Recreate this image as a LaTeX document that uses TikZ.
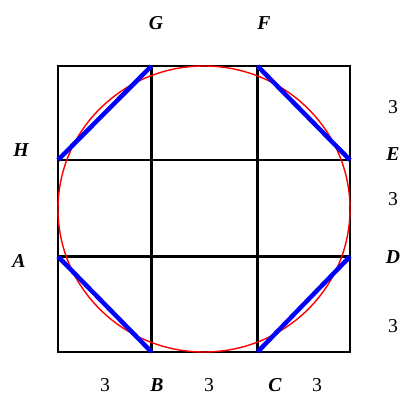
\documentclass[tikz,border=0pt]{standalone}
\usepackage{fontspec}
\setmainfont{Liberation Serif}
\usepackage{tikz}
\usetikzlibrary{calc}

\tikzset{
    lab/.style={font=\fontsize{14}{16}\selectfont\bfseries\itshape},
    num/.style={font=\fontsize{14}{16}\selectfont},
    gridline/.style={black,line width=1.5pt},
    cut/.style={blue,line width=3.2pt}
}

\begin{document}
\begin{tikzpicture}[x=0.025cm,y=-0.025cm]

\useasboundingbox (0,0) rectangle (402,395);

% Grid corners
\coordinate (h) at (58,160);
\coordinate (g) at (151.5,66);
\coordinate (f) at (257.5,66);
\coordinate (e) at (350,160);
\coordinate (d) at (350,256.5);
\coordinate (c) at (257.5,352);
\coordinate (b) at (151.5,352);
\coordinate (a) at (58,256.5);

% Outer square and inner lines
\draw[gridline] (58,66) rectangle (350,352);
\draw[gridline] (g) -- (b);
\draw[gridline] (f) -- (c);
\draw[gridline] (h) -- (e);
\draw[gridline] (a) -- (d);

% Inscribed circle
\draw[red,line width=1pt] (204,209) ellipse [x radius=146,y radius=143];

% Cut corners
\draw[cut] (h) -- (g);
\draw[cut] (f) -- (e);
\draw[cut] (a) -- (b);
\draw[cut] (c) -- (d);

% Vertex labels
\node[lab] (G) at (156,23) {G};
\node[lab] (F) at (264,23) {F};
\node[lab] (H) at (21,150) {H};
\node[lab] (E) at (393,154) {E};
\node[lab] (A) at (19,261) {A};
\node[lab] (D) at (393,257) {D};
\node[lab] (B) at (157,385) {B};
\node[lab] (C) at (275,385) {C};

% Side lengths
\node[num] (r1) at (393,107) {3};
\node[num] (r2) at (393,199) {3};
\node[num] (r3) at (393,326) {3};
\node[num] (b1) at (105,385) {3};
\node[num] (b2) at (209,385) {3};
\node[num] (b3) at (317,385) {3};

\end{tikzpicture}
\end{document}
